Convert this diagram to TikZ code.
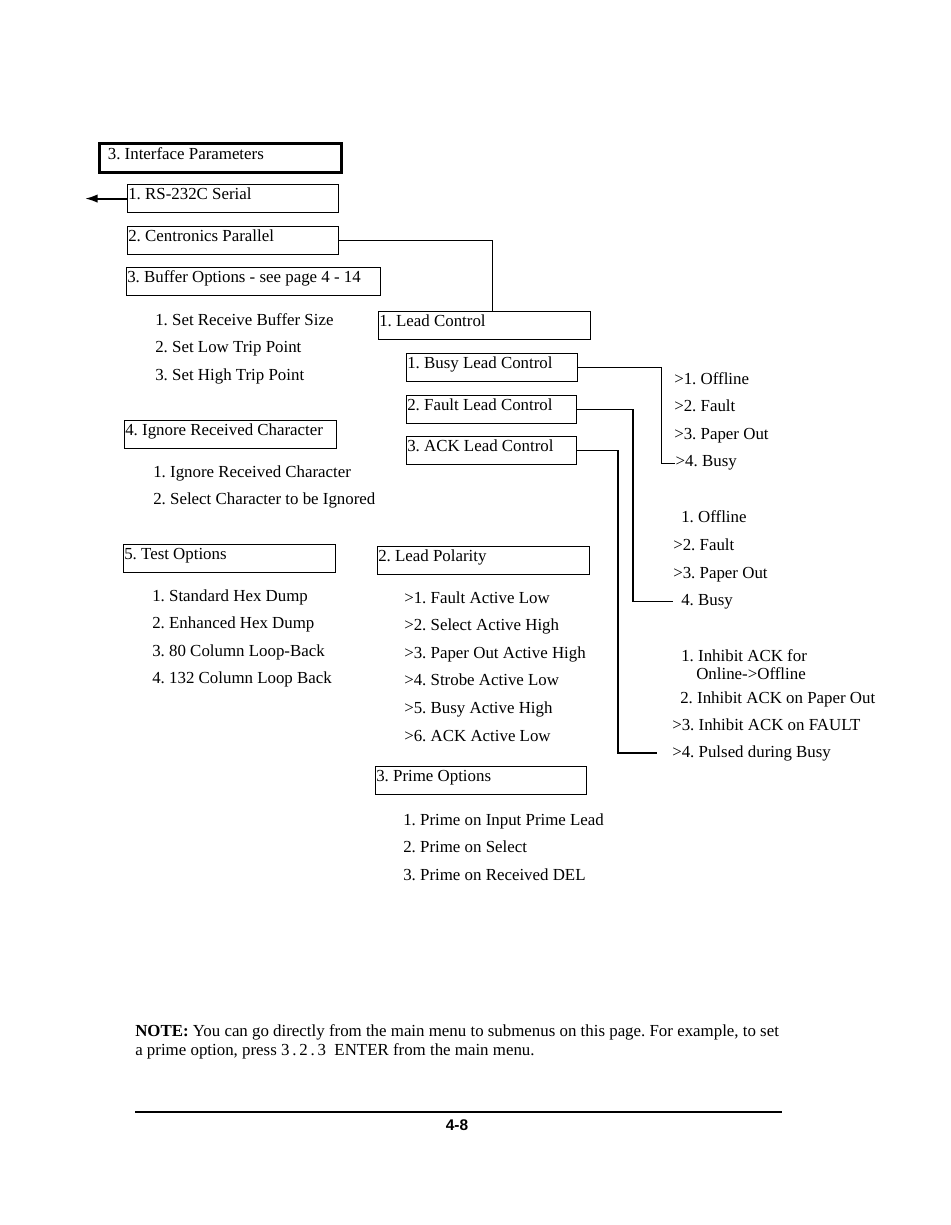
\documentclass[tikz,border=0pt]{standalone}
\usepackage{fontspec}
\setmainfont{Liberation Serif}
\setsansfont{Liberation Sans}
\usetikzlibrary{arrows,arrows.meta,positioning}
\tikzset{
    mybox/.style={rectangle, draw=black, line width=0.8pt, anchor=north west, inner xsep=0.5pt, inner ysep=0pt, text height=10.7pt, text depth=9.2pt, text width=#1, align=flush left},
    mytext/.style={anchor=base west, inner sep=0pt},
    myline/.style={line width=0.8pt},
    myarrow/.style={-{Latex[length=9pt,width=6pt]}, line width=1.4pt}
}

\begin{document}
\begin{tikzpicture}[x=0.025cm, y=-0.025cm, font=\fontsize{12}{14}\selectfont\frenchspacing]
\useasboundingbox (0,0) rectangle (950,1225);

% main menu and its entries
\node[mybox=5.63cm, line width=2pt, inner xsep=6pt, text height=11.4pt] (iface) at (98,142) {3. Interface Parameters};
\node[mybox=5.24cm] (serial) at (127,184) {1. RS-232C Serial};
\node[mybox=5.24cm] (centr) at (127,226) {2. Centronics Parallel};
\node[mybox=6.31cm] (buffer) at (126,267) {3. Buffer Options - see page 4 - 14};

\node[mytext] (buf1) at (155,325) {1. Set Receive Buffer Size};
\node[below=0.69cm of buf1.base west, mytext] (buf2) {2. Set Low Trip Point};
\node[below=0.69cm of buf2.base west, mytext] (buf3) {3. Set High Trip Point};

\node[mybox=5.26cm] (ignore) at (124,420) {4. Ignore Received Character};
\node[mytext] (ign1) at (153,477) {1. Ignore Received Character};
\node[below=0.69cm of ign1.base west, mytext] (ign2) {2. Select Character to be Ignored};

\node[mybox=5.26cm] (test) at (123,544) {5. Test Options};
\node[mytext] (tst1) at (152,601) {1. Standard Hex Dump};
\node[below=0.69cm of tst1.base west, mytext] (tst2) {2. Enhanced Hex Dump};
\node[below=0.69cm of tst2.base west, mytext] (tst3) {3. 80 Column Loop-Back};
\node[below=0.69cm of tst3.base west, mytext] (tst4) {4. 132 Column Loop Back};

% centronics submenu
\node[mybox=5.26cm] (leadc) at (378,311) {1. Lead Control};
\node[mybox=4.24cm] (busy) at (406,353) {1. Busy Lead Control};
\node[mybox=4.21cm] (fault) at (406,395) {2. Fault Lead Control};
\node[mybox=4.21cm] (ack) at (406,436) {3. ACK Lead Control};

\node[mybox=5.26cm] (polar) at (377,546) {2. Lead Polarity};
\node[mytext] (pol1) at (404,603) {>1. Fault Active Low};
\node[below=0.69cm of pol1.base west, mytext] (pol2) {>2. Select Active High};
\node[below=0.69cm of pol2.base west, mytext] (pol3) {>3. Paper Out Active High};
\node[below=0.69cm of pol3.base west, mytext] (pol4) {>4. Strobe Active Low};
\node[below=0.69cm of pol4.base west, mytext] (pol5) {>5. Busy Active High};
\node[below=0.69cm of pol5.base west, mytext] (pol6) {>6. ACK Active Low};

\node[mybox=5.24cm] (prime) at (375,766) {3. Prime Options};
\node[mytext] (prm1) at (403,825) {1. Prime on Input Prime Lead};
\node[below=0.69cm of prm1.base west, mytext] (prm2) {2. Prime on Select};
\node[below=0.69cm of prm2.base west, mytext] (prm3) {3. Prime on Received DEL};

% lead control choices
\node[mytext] (bsy1) at (674,384) {>1. Offline};
\node[below=0.69cm of bsy1.base west, mytext] (bsy2) {>2. Fault};
\node[below=0.69cm of bsy2.base west, mytext] (bsy3) {>3. Paper Out};
\node[below=0.69cm of bsy3.base west, mytext, xshift=1pt] (bsy4) {>4. Busy};

\node[mytext] (flt1) at (681,522) {1. Offline};
\node[mytext] (flt2) at (673,550) {>2. Fault};
\node[mytext] (flt3) at (673,578) {>3. Paper Out};
\node[mytext] (flt4) at (681,605) {4. Busy};

\node[mytext] (ack1) at (681,661) {1. Inhibit ACK for};
\node[mytext] (ack1b) at (696,679) {Online->Offline};
\node[mytext] (ack2) at (680,703) {2. Inhibit ACK on Paper Out};
\node[mytext] (ack3) at (672,730) {>3. Inhibit ACK on FAULT};
\node[mytext] (ack4) at (672,757) {>4. Pulsed during Busy};

% connectors
\coordinate[left=1.05cm of serial.west] (serialout);
\draw[myarrow] (serial.west) -- (serialout);
\draw[myline] (centr.east) -| ([xshift=0.2cm]leadc.north);
\draw[myline] (busy.east) -- ++(83,0) |- (bsy4.west);
\draw[myline, shorten >=6pt] (fault.east) -- ++(56,0) |- (flt4.west);
\draw[myline, shorten >=10.5pt] (ack.east) -- ++(41,0) |- (ack4.west);

% note and page number
\node[mytext] (note1) at (135,1036) {\textbf{NOTE:} You can go directly from the main menu to submenus on this page. For example, to set};
\node[below=0.475cm of note1.base west, mytext] (note2) {a prime option, press 3\,.\,2\,.\,3~~ENTER from the main menu.};
\draw[line width=0.9pt] (135,1112) -- (782,1112);
\node[font=\sffamily\bfseries\fontsize{11}{13}\selectfont] (pagenum) at (457,1125) {4-8};

\end{tikzpicture}
\end{document}
